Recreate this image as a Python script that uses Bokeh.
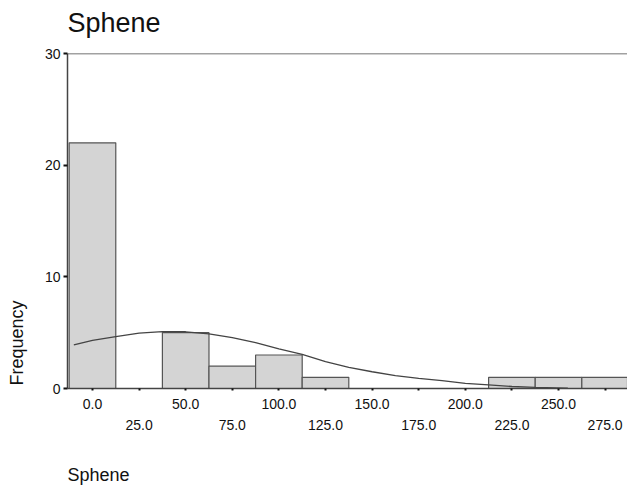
from bokeh.plotting import figure
from bokeh.models import FixedTicker, LinearAxis, Span, Range1d, Title
from bokeh.embed import file_html
from bokeh.resources import INLINE

# ---- data ----
bin_centers = [0, 25, 50, 75, 100, 125, 150, 175, 200, 225, 250, 275]
counts = [22, 0, 5, 2, 3, 1, 0, 0, 0, 1, 1, 1]
bin_width = 25

curve_x = [-10, 0, 12.5, 25, 37.5, 50, 62.5, 75, 87.5, 100, 112.5, 125,
           137.5, 150, 162.5, 175, 187.5, 200, 212.5, 225, 237.5, 255]
curve_y = [3.9, 4.3, 4.65, 4.95, 5.1, 5.08, 4.9, 4.55, 4.1, 3.55, 3.05, 2.4,
           1.9, 1.5, 1.15, 0.9, 0.7, 0.45, 0.32, 0.18, 0.1, 0.04]

y_ticks = [0, 10, 20, 30]
x_ticks_row1 = [0, 50, 100, 150, 200, 250]
x_ticks_row2 = [25, 75, 125, 175, 225, 275]

FONT = "Liberation Sans"
DARK = "#444444"
TXT = "#111111"

W, H = 627, 486
FL, FT, FB = 67, 53, 388          # frame left / top / bottom (px)
X0, X1 = -13.4, 287.0
Y0, Y1 = 0, 30

p = figure(width=W, height=H,
           x_range=Range1d(X0, X1), y_range=Range1d(Y0, Y1),
           output_backend="svg", toolbar_location=None,
           min_border_left=FL, min_border_right=0,
           min_border_top=FT, min_border_bottom=H - FB)
p.title = None

p.outline_line_color = None
p.xgrid.visible = False
p.ygrid.visible = False
p.background_fill_color = "white"

# bars
bx = [c for c, n in zip(bin_centers, counts) if n > 0]
bt = [n for n in counts if n > 0]
p.vbar(x=bx, top=bt, bottom=0, width=bin_width,
       fill_color="#d4d4d4", line_color="#555555", line_width=1.2)

# normal curve
p.line(curve_x, curve_y, line_color=DARK, line_width=1.3)

# top frame line
p.add_layout(Span(location=Y1, dimension="width", line_color=DARK, line_width=1.3))

# y axis
ya = p.yaxis[0]
ya.ticker = FixedTicker(ticks=y_ticks)
ya.axis_line_color = DARK
ya.axis_line_width = 1.5
ya.major_tick_in = 0
ya.major_tick_out = 4
ya.major_tick_line_color = TXT
ya.major_tick_line_width = 2
ya.minor_tick_line_color = None
ya.major_label_standoff = 3
ya.major_label_text_font = FONT
ya.major_label_text_font_size = "14px"
ya.major_label_text_color = TXT

# x axis (row 1 labels + all ticks)
xa = p.xaxis[0]
all_x = sorted(x_ticks_row1 + x_ticks_row2)
xa.ticker = FixedTicker(ticks=all_x)
xa.major_label_overrides = {t: ("%.1f" % t if t in x_ticks_row1 else "") for t in all_x}
xa.axis_line_color = DARK
xa.axis_line_width = 1.5
xa.major_tick_in = 0
xa.major_tick_out = 2
xa.major_tick_line_color = TXT
xa.major_tick_line_width = 2
xa.minor_tick_line_color = None
xa.major_label_standoff = 8
xa.major_label_text_font = FONT
xa.major_label_text_font_size = "14px"
xa.major_label_text_color = TXT

# x axis row 2 labels
xa2 = LinearAxis(ticker=FixedTicker(ticks=x_ticks_row2),
                 major_label_overrides={t: "%.1f" % t for t in x_ticks_row2})
xa2.axis_line_color = None
xa2.major_tick_line_color = None
xa2.minor_tick_line_color = None
xa2.major_tick_out = 0
xa2.major_tick_in = 0
xa2.major_label_standoff = 8
xa2.major_label_text_font = FONT
xa2.major_label_text_font_size = "14px"
xa2.major_label_text_color = TXT
p.add_layout(xa2, "below")


def spacer(k):
    return Title(text=" ", text_font_size="1px", standoff=k)


def title(text, size, **kw):
    return Title(text=text, align="left", standoff=0, text_font=FONT,
                 text_font_size=size, text_font_style="normal",
                 text_color=TXT, **kw)

# chart title (above)
p.add_layout(spacer(13), "above")
p.add_layout(title("Sphene", "27px"), "above")

# x axis title (below)
p.add_layout(spacer(27), "below")
p.add_layout(title("Sphene", "18px"), "below")

# y axis title (left)
p.add_layout(spacer(12), "left")
p.add_layout(title("Frequency", "18px", offset=3), "left")

open("out.html", "w").write(file_html(p, INLINE))
